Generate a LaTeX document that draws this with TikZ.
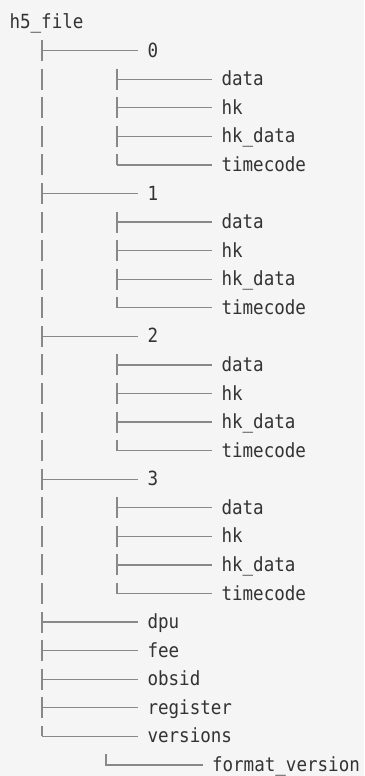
\documentclass[tikz,border=0pt]{standalone}
\usepackage{fontspec}
\newfontfamily\treemono[FakeStretch=0.9]{DejaVu Sans Mono}
\definecolor{bg}{HTML}{F5F5F5}
\definecolor{txt}{HTML}{333333}
\definecolor{ln}{HTML}{888888}
\begin{document}
\begin{tikzpicture}[x=1pt,y=-28.57pt,
  lbl/.style={anchor=base west, inner sep=0pt, outer sep=0pt, yshift=-6.5pt,
    font=\treemono\fontsize{19.5}{22}\selectfont, text=txt},
  conn/.style={draw=ln, line width=1.2pt},
]
\fill[bg] (0pt,0pt) rectangle (364pt,-776pt);
\useasboundingbox (0pt,0pt) rectangle (364pt,-776pt);
\begin{scope}[yshift=-22.1pt]
\node[lbl] (root) at (9.5,0) {h5\_file};
% level-1 vertical bar
\coordinate (b1) at (42,0);
\foreach \i in {1,...,24}{
  \draw[conn] ([yshift=-0.3675*28.57pt]b1 |- 0,\i) -- ([yshift=0.3675*28.57pt]b1 |- 0,\i);
}
\draw[conn] ([yshift=0.3675*28.57pt]b1 |- 0,25) -- (b1 |- 0,25);
% groups
\foreach \g in {0,1,2,3}{
  \pgfmathtruncatemacro\r{1+5*\g}
  \node[lbl] (g\g) at (147.5,\r) {\g};
  \draw[conn] (b1 |- 0,\r) -- ([shift={(-9.5pt,6.5pt)}]g\g.base west);
  \coordinate (b2g\g) at (117,\r);
  \foreach \n/\t [count=\k] in {data/data,hk/hk,hkdata/hk\_data,timecode/timecode}{
    \pgfmathtruncatemacro\rr{\r+\k}
    \node[lbl] (g\g\n) at (221.5,\rr) {\t};
    \ifnum\k<4
      \draw[conn] ([yshift=0.3675*28.57pt]b2g\g |- 0,\rr) -- ([yshift=-0.3675*28.57pt]b2g\g |- 0,\rr);
    \else
      \draw[conn] ([yshift=0.3675*28.57pt]b2g\g |- 0,\rr) -- (b2g\g |- 0,\rr);
    \fi
    \draw[conn] (b2g\g |- 0,\rr) -- ([shift={(-9.5pt,6.5pt)}]g\g\n.base west);
  }
}
% remaining level-1 children
\foreach \n/\t/\rr in {dpu/dpu/21,fee/fee/22,obsid/obsid/23,register/register/24,versions/versions/25}{
  \node[lbl] (\n) at (147.5,\rr) {\t};
  \draw[conn] (b1 |- 0,\rr) -- ([shift={(-9.5pt,6.5pt)}]\n.base west);
}
% level 3
\node[lbl] (fmt) at (212,26) {format\_version};
\coordinate (b3) at (106,26);
\draw[conn] ([yshift=0.3675*28.57pt]b3) -- (b3) -- ([shift={(-9.5pt,6.5pt)}]fmt.base west);
\end{scope}
\end{tikzpicture}
\end{document}
